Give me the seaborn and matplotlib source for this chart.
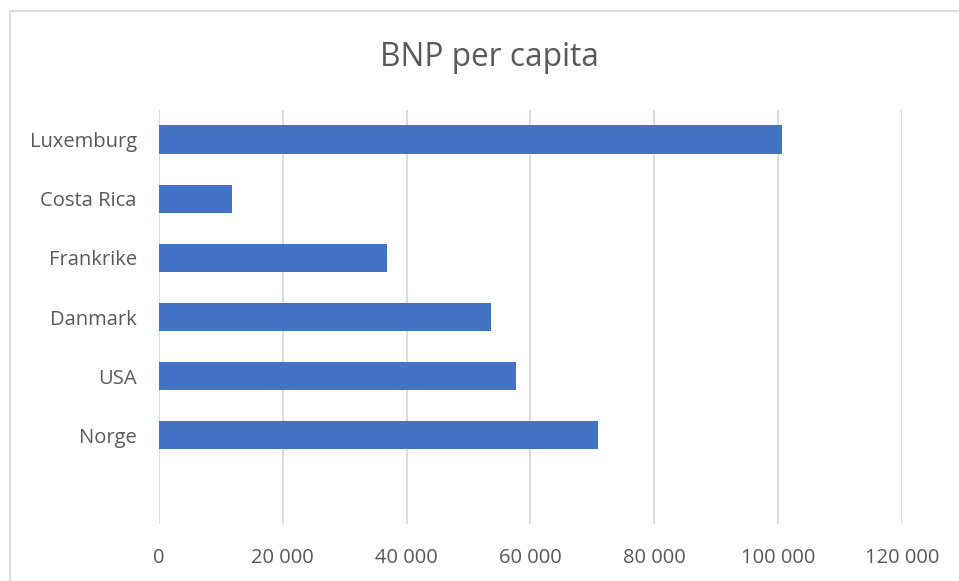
import matplotlib
matplotlib.use("Agg")
import matplotlib.pyplot as plt
import matplotlib.ticker as mticker
from matplotlib.patches import Rectangle
import seaborn as sns
import pandas as pd

countries = ["Luxemburg", "Costa Rica", "Frankrike", "Danmark", "USA", "Norge"]
gdp_per_capita = [100700, 11800, 36800, 53600, 57650, 70900]
x_ticks = [0, 20000, 40000, 60000, 80000, 100000, 120000]

df = pd.DataFrame({"land": countries, "bnp": gdp_per_capita})

sns.set_theme(style="white")
plt.rcParams["font.family"] = ["Open Sans", "DejaVu Sans"]

fig = plt.figure(figsize=(9.59, 5.81), dpi=100)
ax = fig.add_axes([159/959, 1-524/581, (901.7-159)/959, (524-110)/581])

sns.barplot(data=df, x="bnp", y="land", order=countries, orient="h",
            color="#4472C4", width=0.48, ax=ax, saturation=1, edgecolor="none")

ax.set_xlim(0, 120000)
ax.set_ylim(6.5, -0.5)
ax.set_xticks(x_ticks)
ax.xaxis.set_major_formatter(mticker.FuncFormatter(
    lambda v, p: f"{int(v):,}".replace(",", " ")))
ax.grid(axis="x", color="#D9D9D9", linewidth=1.3)
ax.set_axisbelow(True)
for s in ax.spines.values():
    s.set_visible(False)
ax.tick_params(axis="x", length=0, pad=17.5, labelsize=14.5, labelcolor="#595959")
ax.tick_params(axis="y", length=0, pad=16, labelsize=14.5, labelcolor="#595959")
ax.set_xlabel("")
ax.set_ylabel("")

fig.text(489/959, 1-58/581, "BNP per capita", ha="center", va="center",
         fontsize=22.8, color="#595959")

fig.patches.append(Rectangle((10/959, -0.05), 1.1, 1 - 11/581 + 0.05,
                             transform=fig.transFigure, fill=False,
                             edgecolor="#D9D9D9", linewidth=1.2))

fig.savefig("out.png", dpi=100)
